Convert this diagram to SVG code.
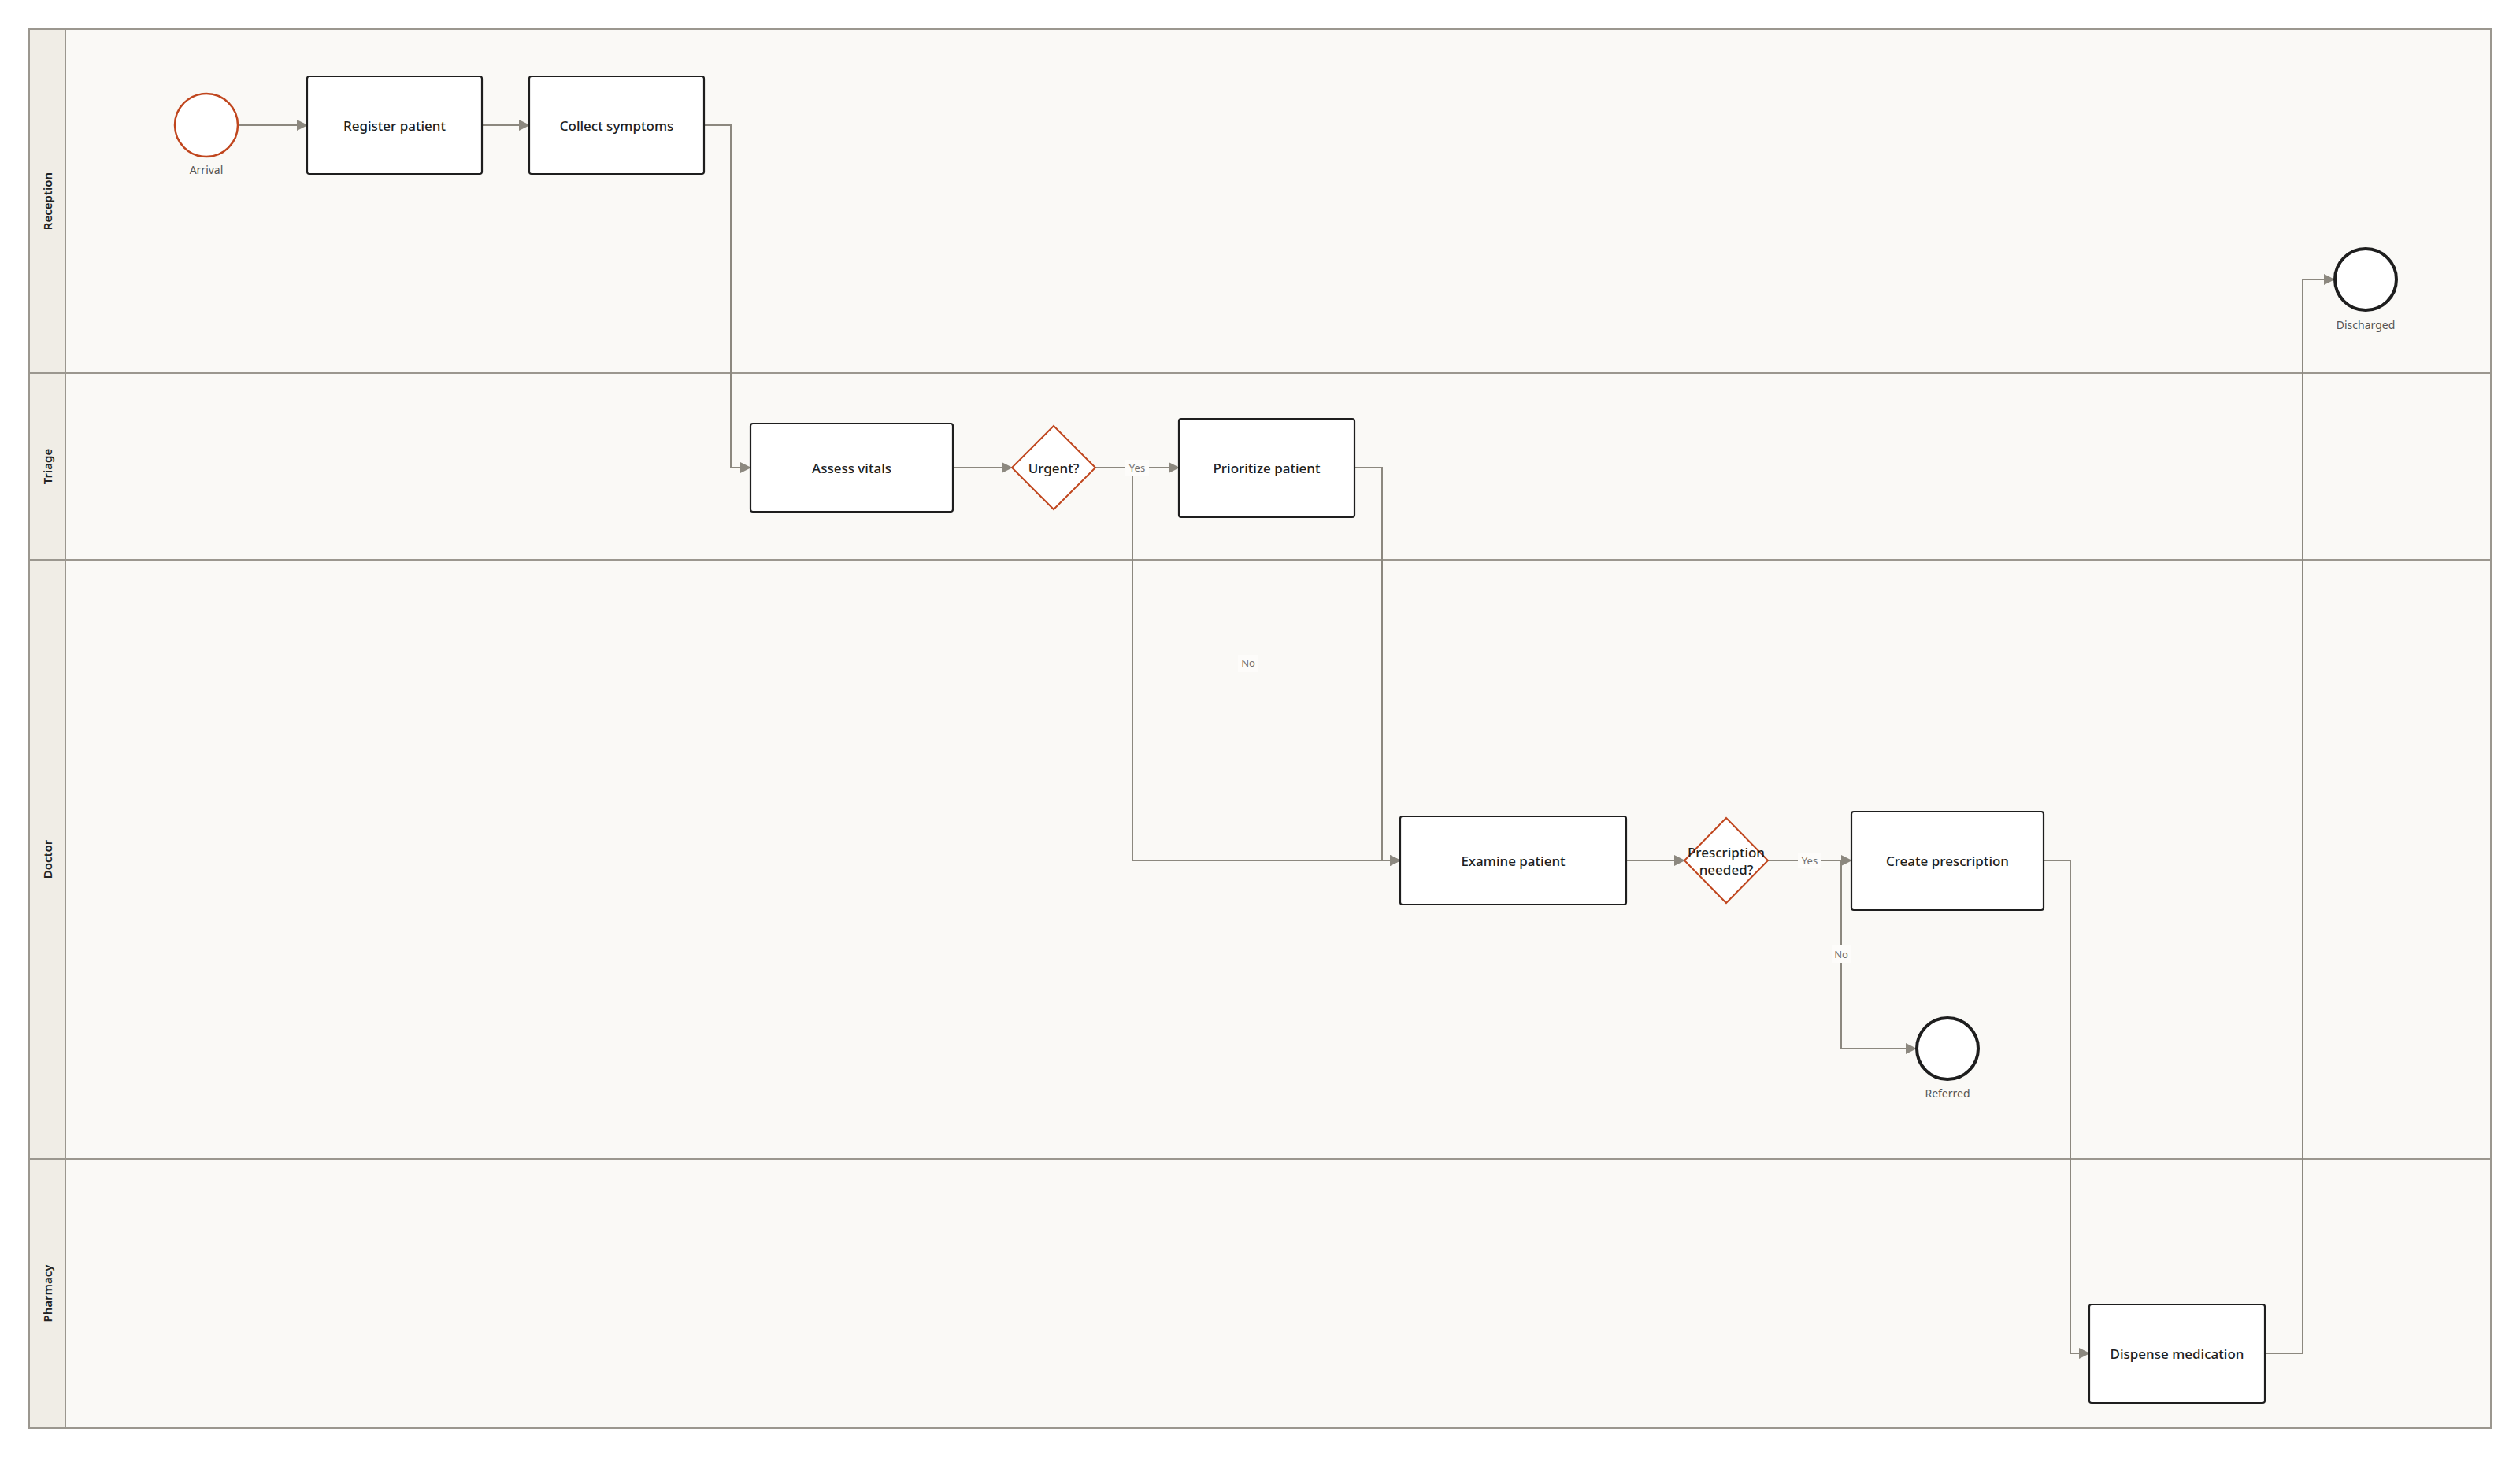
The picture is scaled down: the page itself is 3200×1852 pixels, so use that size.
<svg xmlns="http://www.w3.org/2000/svg" width="3200" height="1852" viewBox="0 0 3200 1852">
<style>
.lane{fill:#faf9f6;stroke:#9b978f;stroke-width:2}
.hdr{fill:#f0ede6;stroke:#9b978f;stroke-width:2}
.lt{font-family:"Noto Sans","Liberation Sans",sans-serif;font-size:15px;font-weight:600;fill:#222;text-anchor:middle;dominant-baseline:central}
.task{fill:#fff;stroke:#1e1e1e;stroke-width:2.2}
.tt{font-family:"Noto Sans","Liberation Sans",sans-serif;font-size:17px;font-weight:500;fill:#1e1e1e;text-anchor:middle;dominant-baseline:central}
.gw{fill:#fff;stroke:#c0461e;stroke-width:2}
.start{fill:#fff;stroke:#c0461e;stroke-width:2.5}
.end{fill:#fff;stroke:#1e1e1e;stroke-width:4}
.el{font-family:"Noto Sans","Liberation Sans",sans-serif;font-size:14px;fill:#555;text-anchor:middle;dominant-baseline:central}
.edge{fill:none;stroke:#8c887f;stroke-width:2}
.lb{fill:#fdfcfa}
.et{font-family:"Noto Sans","Liberation Sans",sans-serif;font-size:13px;fill:#707070;text-anchor:middle;dominant-baseline:central}
</style>
<defs>
<marker id="arr" markerUnits="userSpaceOnUse" markerWidth="14" markerHeight="14" viewBox="0 0 14 14" refX="13" refY="7" orient="auto">
<path d="M0,0 L14,7 L0,14 Z" fill="#8c887f"/>
</marker>
</defs>
<g id="lanes">
<g id="lane-reception"><rect class="lane" x="37" y="37" width="3126" height="437"/><rect class="hdr" x="37" y="37" width="46" height="437"/><text class="lt" transform="translate(60,255.5) rotate(-90)">Reception</text></g>
<g id="lane-triage"><rect class="lane" x="37" y="474" width="3126" height="237"/><rect class="hdr" x="37" y="474" width="46" height="237"/><text class="lt" transform="translate(60,592.5) rotate(-90)">Triage</text></g>
<g id="lane-doctor"><rect class="lane" x="37" y="711" width="3126" height="761"/><rect class="hdr" x="37" y="711" width="46" height="761"/><text class="lt" transform="translate(60,1091.5) rotate(-90)">Doctor</text></g>
<g id="lane-pharmacy"><rect class="lane" x="37" y="1472" width="3126" height="342"/><rect class="hdr" x="37" y="1472" width="46" height="342"/><text class="lt" transform="translate(60,1643) rotate(-90)">Pharmacy</text></g>
</g>
<g id="connectors">
<path class="edge" d="M302,159 H390" marker-end="url(#arr)"/>
<path class="edge" d="M612,159 H672" marker-end="url(#arr)"/>
<path class="edge" d="M894,159 H928 V594 H953" marker-end="url(#arr)"/>
<path class="edge" d="M1210,594 H1285" marker-end="url(#arr)"/>
<path class="edge" d="M1391,594 H1497" marker-end="url(#arr)"/>
<path class="edge" d="M1391,594 H1438 V1093 H1778" marker-end="url(#arr)"/>
<path class="edge" d="M1720,594 H1755 V1093 H1778" marker-end="url(#arr)"/>
<path class="edge" d="M2065,1093 H2139" marker-end="url(#arr)"/>
<path class="edge" d="M2245,1093 H2351" marker-end="url(#arr)"/>
<path class="edge" d="M2245,1093 H2338 V1332 H2433" marker-end="url(#arr)"/>
<path class="edge" d="M2595,1093 H2629 V1719 H2653" marker-end="url(#arr)"/>
<path class="edge" d="M2876,1719 H2924 V355 H2964" marker-end="url(#arr)"/>
<rect class="lb" x="1429" y="584" width="30" height="20"/><text class="et" x="1444" y="594">Yes</text>
<rect class="lb" x="1572" y="832" width="26" height="21"/><text class="et" x="1585" y="842">No</text>
<rect class="lb" x="2283" y="1083" width="30" height="20"/><text class="et" x="2298" y="1093">Yes</text>
<rect class="lb" x="2326" y="1201" width="24" height="22"/><text class="et" x="2338" y="1212">No</text>
</g>
<g id="arrival"><circle class="start" cx="262" cy="159" r="40"/><text class="el" x="262" y="215">Arrival</text></g>
<g id="register-patient"><rect class="task" x="390" y="97" width="222" height="124" rx="3"/><text class="tt" x="501" y="159">Register patient</text></g>
<g id="collect-symptoms"><rect class="task" x="672" y="97" width="222" height="124" rx="3"/><text class="tt" x="783" y="159">Collect symptoms</text></g>
<g id="assess-vitals"><rect class="task" x="953" y="538" width="257" height="112" rx="3"/><text class="tt" x="1081.5" y="594">Assess vitals</text></g>
<g id="urgent"><polygon class="gw" points="1338,541 1391,594 1338,647 1285,594"/><text class="tt" x="1338" y="594">Urgent?</text></g>
<g id="prioritize-patient"><rect class="task" x="1497" y="532" width="223" height="125" rx="3"/><text class="tt" x="1608.5" y="594">Prioritize patient</text></g>
<g id="examine-patient"><rect class="task" x="1778" y="1037" width="287" height="112" rx="3"/><text class="tt" x="1921.5" y="1093">Examine patient</text></g>
<g id="prescription-needed"><polygon class="gw" points="2192,1039 2245,1093 2192,1147 2139,1093"/><text class="tt" x="2192" y="1082">Prescription</text><text class="tt" x="2192" y="1104">needed?</text></g>
<g id="create-prescription"><rect class="task" x="2351" y="1031" width="244" height="125" rx="3"/><text class="tt" x="2473" y="1093">Create prescription</text></g>
<g id="referred"><circle class="end" cx="2473" cy="1332" r="39"/><text class="el" x="2473" y="1388">Referred</text></g>
<g id="dispense-medication"><rect class="task" x="2653" y="1657" width="223" height="125" rx="3"/><text class="tt" x="2764.5" y="1719">Dispense medication</text></g>
<g id="discharged"><circle class="end" cx="3004" cy="355" r="39"/><text class="el" x="3004" y="412">Discharged</text></g>
</svg>
